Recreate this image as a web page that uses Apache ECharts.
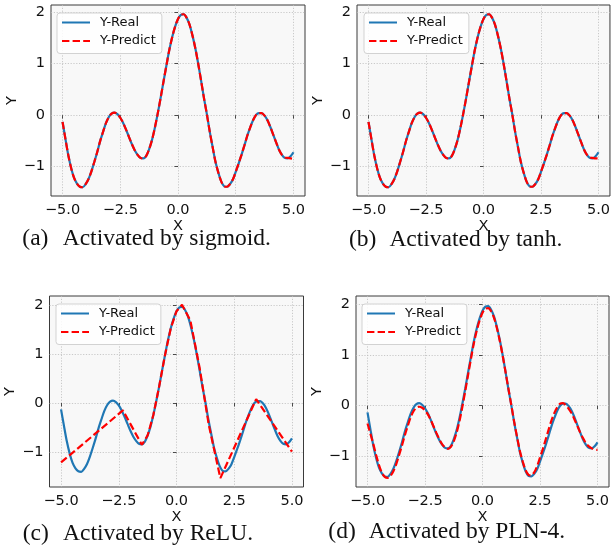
<!DOCTYPE html>
<html>
<head>
<meta charset="utf-8">
<script src="https://cdn.jsdelivr.net/npm/echarts@6/dist/echarts.min.js"></script>
<style>
  html, body { margin: 0; padding: 0; background: #ffffff; }
  #chart { width: 613px; height: 550px; }
</style>
</head>
<body>
<div id="chart"></div>
<script>
// Sample positions along X (step 0.125)
const xs = [-5, -4.875, -4.75, -4.625, -4.5, -4.375, -4.25, -4.125, -4, -3.875, -3.75, -3.625, -3.5,
  -3.375, -3.25, -3.125, -3, -2.875, -2.75, -2.625, -2.5, -2.375, -2.25, -2.125, -2, -1.875, -1.75,
  -1.625, -1.5, -1.375, -1.25, -1.125, -1, -0.875, -0.75, -0.625, -0.5, -0.375, -0.25, -0.125, 0,
  0.125, 0.25, 0.375, 0.5, 0.625, 0.75, 0.875, 1, 1.125, 1.25, 1.375, 1.5, 1.625, 1.75, 1.875, 2,
  2.125, 2.25, 2.375, 2.5, 2.625, 2.75, 2.875, 3, 3.125, 3.25, 3.375, 3.5, 3.625, 3.75, 3.875, 4,
  4.125, 4.25, 4.375, 4.5, 4.625, 4.75, 4.875, 5];

// Target curve
const yReal = [-0.13, -0.46, -0.78, -1.03, -1.22, -1.33, -1.39, -1.40, -1.34, -1.24, -1.09, -0.91, -0.72,
  -0.51, -0.33, -0.16, -0.04, 0.03, 0.05, 0.02, -0.05, -0.15, -0.28, -0.42, -0.56, -0.68, -0.77,
  -0.83, -0.84, -0.79, -0.66, -0.48, -0.24, 0.04, 0.34, 0.66, 0.97, 1.27, 1.52, 1.72, 1.87,
  1.95, 1.96, 1.89, 1.76, 1.55, 1.30, 1.00, 0.67, 0.33, 0.02, -0.32, -0.62, -0.91, -1.12, -1.29, -1.38,
  -1.39, -1.34, -1.25, -1.10, -0.94, -0.77, -0.59, -0.40, -0.24, -0.10, 0.00, 0.04, 0.04, -0.01, -0.10, -0.23,
  -0.38, -0.53, -0.67, -0.77, -0.83, -0.84, -0.80, -0.72];

// Network outputs per activation
const ySigmoid = [-0.13, -0.46, -0.78, -1.03, -1.22, -1.33, -1.39, -1.40, -1.34, -1.24, -1.09, -0.91, -0.72,
  -0.51, -0.33, -0.16, -0.04, 0.03, 0.05, 0.02, -0.05, -0.15, -0.28, -0.42, -0.56, -0.68, -0.77,
  -0.83, -0.84, -0.79, -0.66, -0.48, -0.24, 0.04, 0.34, 0.66, 0.97, 1.27, 1.52, 1.72, 1.87,
  1.95, 1.96, 1.89, 1.76, 1.55, 1.30, 1.00, 0.67, 0.33, 0.02, -0.32, -0.62, -0.91, -1.12, -1.29, -1.38,
  -1.39, -1.34, -1.25, -1.10, -0.94, -0.77, -0.59, -0.40, -0.24, -0.10, 0.00, 0.04, 0.04, -0.01, -0.10, -0.23,
  -0.38, -0.53, -0.67, -0.77, -0.82, -0.83, -0.84, -0.85];

const yTanh = [-0.13, -0.46, -0.78, -1.03, -1.22, -1.33, -1.39, -1.40, -1.34, -1.24, -1.09, -0.91, -0.72,
  -0.51, -0.33, -0.16, -0.04, 0.03, 0.05, 0.02, -0.05, -0.15, -0.28, -0.42, -0.56, -0.68, -0.77,
  -0.83, -0.84, -0.79, -0.66, -0.48, -0.24, 0.04, 0.34, 0.66, 0.97, 1.27, 1.52, 1.72, 1.87,
  1.95, 1.96, 1.89, 1.76, 1.55, 1.30, 1.00, 0.67, 0.33, 0.02, -0.32, -0.62, -0.91, -1.12, -1.29, -1.38,
  -1.39, -1.34, -1.25, -1.10, -0.94, -0.77, -0.59, -0.40, -0.24, -0.10, 0.00, 0.04, 0.04, -0.01, -0.10, -0.23,
  -0.38, -0.53, -0.67, -0.77, -0.82, -0.83, -0.84, -0.84];

const yPln4 = [-0.35, -0.55, -0.75, -0.97, -1.17, -1.32, -1.40, -1.42, -1.38, -1.29, -1.15, -0.97, -0.78,
  -0.58, -0.40, -0.23, -0.11, -0.04, -0.02, -0.04, -0.09, -0.17, -0.28, -0.41, -0.54, -0.66, -0.76,
  -0.82, -0.85, -0.81, -0.70, -0.53, -0.30, -0.02, 0.29, 0.61, 0.93, 1.23, 1.48, 1.68, 1.83,
  1.91, 1.92, 1.86, 1.73, 1.53, 1.28, 0.99, 0.67, 0.34, 0.02, -0.31, -0.61, -0.89, -1.10, -1.27, -1.36,
  -1.37, -1.31, -1.19, -1.02, -0.85, -0.66, -0.47, -0.29, -0.14, -0.03, 0.04, 0.05, 0.01, -0.06, -0.15, -0.27,
  -0.40, -0.53, -0.64, -0.74, -0.80, -0.84, -0.86, -0.87];

// ReLU output is piecewise linear: its breakpoints
const xRelu = [-5, -2.32, -1.5, -1.25, -1, -0.75, -0.5, -0.25, 0, 0.24, 0.6, 1.0, 1.4, 1.9, 3.45, 5];
const yRelu = [-1.21, -0.15, -0.85, -0.66, -0.24, 0.34, 0.97, 1.52, 1.87, 2.0, 1.68, 0.72, -0.45, -1.53, 0.08, -0.99];

const xTicks = [-5, -2.5, 0, 2.5, 5];
const yTicks = [-1, 0, 1, 2];
const seriesNames = ['Y-Real', 'Y-Predict'];
const captionTags = ['(a)', '(b)', '(c)', '(d)'];
const captions = ['Activated by sigmoid.', 'Activated by tanh.', 'Activated by ReLU.', 'Activated by PLN-4.'];

const BLUE = '#1f77b4';
const RED = '#ff0000';
const SANS = 'DejaVu Sans';
const SERIF = '"Liberation Serif"';

const panels = [
  { grid: { left: 51, top: 5, width: 254, height: 191 }, yMin: -1.57, yMax: 2.14,
    pred: xs.map((x, i) => [x, ySigmoid[i]]), smoothPred: true, legend: [57, 13], cap: [22.3, 239] },
  { grid: { left: 357, top: 5, width: 254, height: 191 }, yMin: -1.57, yMax: 2.14,
    pred: xs.map((x, i) => [x, yTanh[i]]), smoothPred: true, legend: [364, 13], cap: [349, 240.3] },
  { grid: { left: 49.5, top: 296, width: 254, height: 191 }, yMin: -1.71, yMax: 2.18,
    pred: xRelu.map((x, i) => [x, yRelu[i]]), smoothPred: false, legend: [56, 304], cap: [22.7, 534] },
  { grid: { left: 356, top: 296, width: 253, height: 191 }, yMin: -1.60, yMax: 2.16,
    pred: xs.map((x, i) => [x, yPln4[i]]), smoothPred: true, legend: [362, 304], cap: [328.3, 531.7] }
];

const fmt = v => {
  const s = Number.isInteger(v) ? String(v) : v.toFixed(1);
  return s.replace('-', '\u2212');
};
const fmtX = v => v.toFixed(1).replace('-', '\u2212');

const realData = xs.map((x, i) => [x, yReal[i]]);

const grids = [], xAxes = [], yAxes = [], series = [], legends = [], graphics = [];

panels.forEach((p, k) => {
  grids.push(Object.assign({
    show: true, backgroundColor: '#f8f8f8', borderColor: '#3a3a3a', borderWidth: 1
  }, p.grid));

  const gridLine = { show: true, lineStyle: { color: '#bdbdbd', width: 0.8, type: [1.2, 1.6] } };
  xAxes.push({
    type: 'value', gridIndex: k, min: -5.5, max: 5.5,
    name: 'X', nameLocation: 'middle', nameGap: 22,
    nameTextStyle: { fontFamily: SANS, fontSize: 14.5, color: '#111' },
    axisLine: { show: false },
    axisTick: { show: true, inside: false, length: 3.5, customValues: xTicks, lineStyle: { color: '#222', width: 0.8 } },
    axisLabel: { customValues: xTicks, formatter: fmtX, margin: 7, fontFamily: SANS, fontSize: 14.5, color: '#111' },
    splitLine: gridLine
  });
  yAxes.push({
    type: 'value', gridIndex: k, min: p.yMin, max: p.yMax,
    name: 'Y', nameLocation: 'middle', nameGap: 27, nameRotate: 90,
    nameTextStyle: { fontFamily: SANS, fontSize: 14.5, color: '#111' },
    axisLine: { show: false },
    axisTick: { show: true, inside: false, length: 3.5, customValues: yTicks, lineStyle: { color: '#222', width: 0.8 } },
    axisLabel: { customValues: yTicks, formatter: fmt, margin: 6, fontFamily: SANS, fontSize: 14.5, color: '#111' },
    splitLine: gridLine
  });

  series.push({
    name: seriesNames[0], type: 'line', xAxisIndex: k, yAxisIndex: k,
    data: realData, smooth: 0.3, symbol: 'none', silent: true,
    lineStyle: { color: BLUE, width: 2.2 }, itemStyle: { color: BLUE }, z: 2
  });
  series.push({
    name: seriesNames[1], type: 'line', xAxisIndex: k, yAxisIndex: k,
    data: p.pred, smooth: p.smoothPred ? 0.3 : false, symbol: 'none', silent: true,
    lineStyle: { color: RED, width: 2.2, type: [7.4, 3.2] }, itemStyle: { color: RED }, z: 3
  });

  legends.push({
    data: seriesNames, left: p.legend[0], top: p.legend[1], orient: 'vertical',
    itemWidth: 28, itemHeight: 14, itemGap: 5.5, padding: [3, 6, 6, 4],
    itemStyle: { opacity: 0 },
    backgroundColor: 'rgba(255,255,255,0.85)', borderColor: '#d2d2d2', borderWidth: 1, borderRadius: 3,
    textStyle: { fontFamily: SANS, fontSize: 13, color: '#111', padding: [0, 0, 0, 5] },
    selectedMode: false
  });

  // Sub-figure caption: tag, then description
  graphics.push({
    type: 'text', x: p.cap[0], y: p.cap[1],
    style: { text: captionTags[k], font: '23.5px ' + SERIF, fill: '#111', align: 'left', verticalAlign: 'middle' }
  });
  graphics.push({
    type: 'text', x: p.cap[0] + 40.4, y: p.cap[1],
    style: { text: captions[k], font: '23.5px ' + SERIF, fill: '#111', align: 'left', verticalAlign: 'middle' }
  });
});

const chart = echarts.init(document.getElementById('chart'), null, { renderer: 'canvas' });
chart.setOption({
  animation: false,
  backgroundColor: '#ffffff',
  grid: grids,
  xAxis: xAxes,
  yAxis: yAxes,
  series: series,
  legend: legends,
  graphic: graphics
});
</script>
</body>
</html>
